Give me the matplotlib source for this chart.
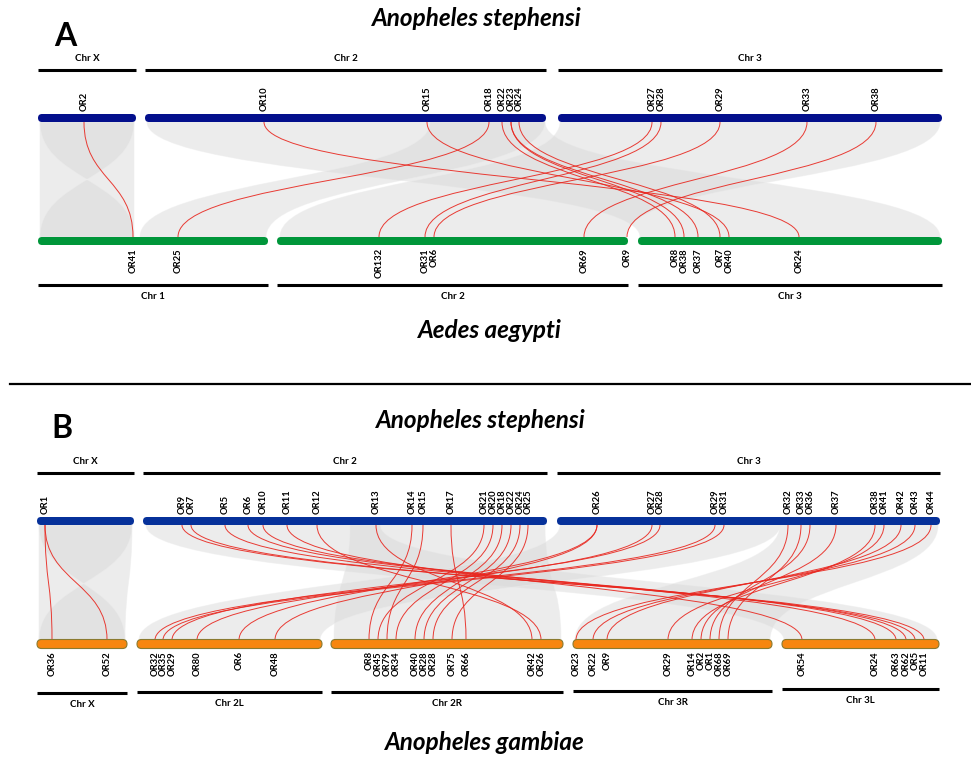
import matplotlib
matplotlib.use("Agg")
import matplotlib.pyplot as plt
from matplotlib.path import Path
from matplotlib.patches import PathPatch, FancyBboxPatch

plt.rcParams['font.family'] = ['Lato', 'DejaVu Sans']

# ---------------- Panel A: An. stephensi (top) vs Ae. aegypti (bottom) ----------------
a_top_chr = ["Chr X", "Chr 2", "Chr 3"]
a_top_start = [38, 145, 558]
a_top_end = [136, 546, 942]

a_bot_chr = ["Chr 1", "Chr 2", "Chr 3"]
a_bot_start = [38, 277, 638]
a_bot_end = [268, 628, 942]

a_top_genes = ["OR2", "OR10", "OR15", "OR18", "OR22", "OR23", "OR24",
               "OR27", "OR28", "OR29", "OR33", "OR38"]
a_top_pos = [84, 264, 427, 489, 502, 511, 519, 652, 661, 720, 807, 876]

a_bot_genes = ["OR41", "OR25", "OR132", "OR31", "OR6", "OR69", "OR9",
               "OR8", "OR38", "OR37", "OR7", "OR40", "OR24"]
a_bot_pos = [133, 178, 379, 425, 434, 584, 627, 675, 684, 698, 720, 729, 799]

# red links: (index in top genes, index in bottom genes)
a_links = [(0, 0), (1, 12), (2, 11), (3, 1), (4, 7), (5, 8), (5, 9), (6, 10),
           (7, 2), (8, 3), (9, 4), (10, 5), (11, 6)]

# grey synteny blocks: (top start, top end, bottom start, bottom end)
a_blocks = [(40, 134, 40, 134), (40, 134, 134, 40),
            (147, 545, 640, 940), (430, 545, 140, 266),
            (560, 940, 280, 626)]

# ---------------- Panel B: An. stephensi (top) vs An. gambiae (bottom) ----------------
b_top_chr = ["Chr X", "Chr 2", "Chr 3"]
b_top_start = [37, 143, 557]
b_top_end = [134, 547, 940]

b_bot_chr = ["Chr X", "Chr 2L", "Chr 2R", "Chr 3R", "Chr 3L"]
b_bot_start = [37, 137, 331, 573, 782]
b_bot_end = [127, 322, 563, 772, 939]

b_top_genes = ["OR1", "OR9", "OR7", "OR5", "OR6", "OR10", "OR11", "OR12", "OR13",
               "OR14", "OR15", "OR17", "OR21", "OR20", "OR18", "OR22", "OR24", "OR25",
               "OR26", "OR27", "OR28", "OR29", "OR31", "OR32", "OR33", "OR36", "OR37",
               "OR38", "OR41", "OR42", "OR43", "OR44"]
b_top_pos = [45, 182, 191, 225, 248, 263, 287, 317, 376, 412, 423, 451, 484, 493,
             502, 511, 520, 528, 597, 652, 660, 715, 724, 788, 801, 810, 836, 875,
             884, 901, 915, 931]

b_bot_genes = ["OR36", "OR52", "OR32", "OR35", "OR29", "OR80", "OR6", "OR48", "OR8",
               "OR45", "OR79", "OR34", "OR40", "OR28", "OR28", "OR75", "OR66", "OR42",
               "OR26", "OR23", "OR22", "OR9", "OR29", "OR14", "OR2", "OR1", "OR68",
               "OR69", "OR54", "OR24", "OR63", "OR62", "OR5", "OR11"]
b_bot_pos = [52, 107, 155, 163, 172, 197, 239, 275, 369, 378, 387, 396, 415, 424,
             433, 452, 466, 532, 541, 576, 593, 607, 668, 692, 701, 710, 719, 728,
             802, 875, 896, 906, 915, 924]

b_links = [(0, 0), (0, 1),
           (1, 33), (2, 32), (3, 31), (4, 30), (5, 29), (6, 28), (7, 18), (8, 17),
           (9, 8), (10, 10), (11, 16), (12, 9), (13, 11), (14, 12), (15, 13),
           (16, 14), (17, 15),
           (18, 6), (18, 7), (19, 5), (20, 4), (21, 2), (22, 3),
           (23, 26), (24, 27), (25, 25), (26, 24), (27, 23), (28, 22), (29, 21),
           (30, 20), (31, 19)]

b_blocks = [(39, 132, 39, 125), (39, 132, 125, 39),
            (146, 380, 784, 937), (350, 545, 334, 561),
            (560, 780, 139, 320), (780, 938, 575, 770)]


def bar(ax, x0, x1, y, color, h=8, edge=None):
    p = FancyBboxPatch((x0, y - h / 2), x1 - x0, h,
                       boxstyle="round,pad=0,rounding_size=%g" % (h / 2),
                       facecolor=color, edgecolor=edge if edge else color,
                       linewidth=0.8 if edge else 0, zorder=3)
    ax.add_patch(p)


def link(ax, xt, yt, xb, yb, **kw):
    ym = (yt + yb) / 2
    verts = [(xt, yt), (xt, ym), (xb, ym), (xb, yb)]
    codes = [Path.MOVETO, Path.CURVE4, Path.CURVE4, Path.CURVE4]
    ax.add_patch(PathPatch(Path(verts, codes), fill=False, **kw))


def ribbon(ax, ts, te, bs, be, yt, yb):
    ym = (yt + yb) / 2
    verts = [(ts, yt), (te, yt),
             (te, ym), (be, ym), (be, yb),
             (bs, yb),
             (bs, ym), (ts, ym), (ts, yt),
             (ts, yt)]
    codes = [Path.MOVETO, Path.LINETO,
             Path.CURVE4, Path.CURVE4, Path.CURVE4,
             Path.LINETO,
             Path.CURVE4, Path.CURVE4, Path.CURVE4,
             Path.CLOSEPOLY]
    ax.add_patch(PathPatch(Path(verts, codes), facecolor='#dadada',
                           edgecolor='#ececec', lw=0.6, alpha=0.5, zorder=1))


def panel(ax, y_chr_top, y_bar_top, y_bar_bot, y_chr_bot,
          top_chr, top_s, top_e, bot_chr, bot_s, bot_e,
          top_genes, top_pos, bot_genes, bot_pos, links, blocks,
          top_color, bot_color, bot_edge=None, bot_chr_y=None):
    # chromosome name lines
    for name, s, e in zip(top_chr, top_s, top_e):
        ax.plot([s, e], [y_chr_top, y_chr_top], color='black', lw=2.2,
                solid_capstyle='butt')
        ax.text((s + e) / 2, y_chr_top - 7, name, ha='center', va='bottom',
                fontsize=7, fontweight='bold')
    for i, (name, s, e) in enumerate(zip(bot_chr, bot_s, bot_e)):
        yl = bot_chr_y[i] if bot_chr_y else y_chr_bot
        ax.plot([s, e], [yl, yl], color='black', lw=2.2, solid_capstyle='butt')
        ax.text((s + e) / 2, yl + 7, name, ha='center', va='top',
                fontsize=7, fontweight='bold')

    yt = y_bar_top + 4
    yb = y_bar_bot - 4
    for ts, te, bs, be in blocks:
        ribbon(ax, ts, te, bs, be, yt, yb)
    for i, j in links:
        link(ax, top_pos[i], yt, bot_pos[j], yb, edgecolor='#e8271f', lw=0.7,
             alpha=0.9, zorder=2)

    for s, e in zip(top_s, top_e):
        bar(ax, s, e, y_bar_top, top_color)
    for s, e in zip(bot_s, bot_e):
        bar(ax, s, e, y_bar_bot, bot_color, h=9 if bot_edge else 8, edge=bot_edge)

    for g, x in zip(top_genes, top_pos):
        ax.text(x, y_bar_top - 7, g, rotation=90, ha='center', va='bottom',
                fontsize=6.8, fontweight='bold')
    for g, x in zip(bot_genes, bot_pos):
        ax.text(x, y_bar_bot + 7, g, rotation=90, ha='center', va='top',
                fontsize=6.8, fontweight='bold')


fig = plt.figure(figsize=(9.71, 7.59), dpi=100)
ax = fig.add_axes([0, 0, 1, 1])
ax.set_xlim(0, 971)
ax.set_ylim(759, 0)
ax.axis('off')

title_kw = dict(ha='center', va='center', fontsize=17.5, fontweight='bold',
                fontstyle='italic')

# Panel A
ax.text(65, 36, "A", ha='center', va='center', fontsize=23, fontweight='bold')
ax.text(477, 18, "Anopheles stephensi", **title_kw)
panel(ax, 70, 118, 241, 285,
      a_top_chr, a_top_start, a_top_end, a_bot_chr, a_bot_start, a_bot_end,
      a_top_genes, a_top_pos, a_bot_genes, a_bot_pos, a_links, a_blocks,
      '#030f8c', '#00963a')
ax.text(490, 331, "Aedes aegypti", **title_kw)

# separator
ax.plot([10, 971], [384, 384], color='black', lw=1.6)

# Panel B
ax.text(62, 428, "B", ha='center', va='center', fontsize=23, fontweight='bold')
ax.text(481, 421, "Anopheles stephensi", **title_kw)
panel(ax, 473, 521, 644, 693,
      b_top_chr, b_top_start, b_top_end, b_bot_chr, b_bot_start, b_bot_end,
      b_top_genes, b_top_pos, b_bot_genes, b_bot_pos, b_links, b_blocks,
      '#06319a', '#f7860f', bot_edge='#8a7a30',
      bot_chr_y=[693, 692, 692, 691, 689])
ax.text(485, 743, "Anopheles gambiae", **title_kw)

fig.savefig("out.png", dpi=100)
